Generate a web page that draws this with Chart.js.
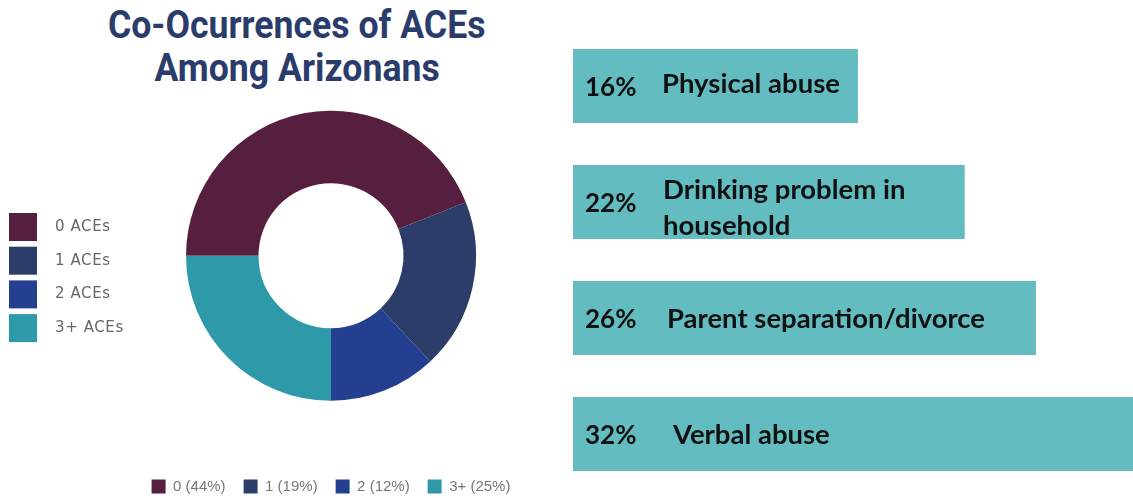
<!DOCTYPE html>
<html>
<head>
<meta charset="utf-8">
<title>Co-Ocurrences of ACEs Among Arizonans</title>
<script src="https://cdn.jsdelivr.net/npm/chart.js@4.4.1/dist/chart.umd.min.js"></script>
<style>
  html, body { margin:0; padding:0; background:#fff; }
  body { width:1133px; height:498px; position:relative; overflow:hidden; }
  #title { position:absolute; left:0; top:4px; width:594px; text-align:center;
           font-family:Roboto, sans-serif; font-weight:700; font-size:36px; line-height:43px; color:#2a3c6c; }
  #title span { display:inline-block; transform:scale(.99, 1.08); transform-origin:center; white-space:nowrap; }
  #donutWrap { position:absolute; left:0; top:0; width:662px; height:504px; }
  #barsWrap { position:absolute; left:573px; top:28px; width:560px; height:464px; }
</style>
</head>
<body>
<div id="title"><span>Co-Ocurrences of ACEs</span><br><span>Among Arizonans</span></div>
<div id="donutWrap"><canvas id="c-aces"></canvas></div>
<div id="barsWrap"><canvas id="c-types"></canvas></div>
<script>
  // ── ACE counts per person (share of adults, %)
  const aceLabels = ['0 ACEs', '1 ACEs', '2 ACEs', '3+ ACEs'];
  const aceShort  = ['0', '1', '2', '3+'];
  const aceShare  = [44, 19, 12, 25];
  const aceColors = ['#561f3f', '#2c3d6a', '#243f90', '#2e9aa9'];

  // ── Most common ACE types (%)
  const typeLabels = ['Physical abuse', ['Drinking problem in', 'household'], 'Parent separation/divorce', 'Verbal abuse'];
  const typeShare  = [16, 22, 26, 32];
  const typeIndent = [89, 90, 94, 100];   // label offset from bar start, px

  // legend squares on the left of the doughnut
  const sideLegend = {
    id: 'sideLegend',
    afterDraw(chart){
      const ctx = chart.ctx;
      const ds = chart.data.datasets[0];
      ctx.save();
      ctx.font = '15px "DejaVu Sans", sans-serif';
      ctx.letterSpacing = '0.6px';
      ctx.textBaseline = 'middle';
      chart.data.labels.forEach((lbl, i) => {
        const y = 213 + i * 33.7;
        ctx.fillStyle = ds.backgroundColor[i];
        ctx.fillRect(9, y, 28, 28);
        ctx.fillStyle = '#666';
        ctx.fillText(lbl, 55, y + 14);
      });
      ctx.restore();
    }
  };

  new Chart(document.getElementById('c-aces'), {
    type: 'doughnut',
    data: {
      labels: aceLabels,
      datasets: [{ data: aceShare, backgroundColor: aceColors, borderWidth: 0 }]
    },
    options: {
      responsive: true, maintainAspectRatio: false, animation: false,
      rotation: -90, radius: 145, cutout: '50%',
      layout: { padding: { top: 50.5, bottom: 0, left: 0, right: 0 } },
      plugins: {
        tooltip: { enabled: false },
        legend: {
          position: 'bottom',
          labels: {
            boxWidth: 14, boxHeight: 14, padding: 18, color: '#777',
            font: { family: '"Liberation Sans", Arial, sans-serif', size: 15 },
            generateLabels: chart => chart.data.labels.map((l, i) => ({
              text: aceShort[i] + ' (' + aceShare[i] + '%)',
              fillStyle: aceColors[i], strokeStyle: aceColors[i], lineWidth: 0,
              fontColor: '#777', index: i, hidden: false
            }))
          }
        }
      }
    },
    plugins: [sideLegend]
  });

  // percent + label written inside each bar
  const barText = {
    id: 'barText',
    afterDatasetsDraw(chart){
      const ctx = chart.ctx;
      const x0 = chart.scales.x.getPixelForValue(0);
      const vals = chart.data.datasets[0].data;
      ctx.save();
      ctx.fillStyle = '#111';
      ctx.textBaseline = 'middle';
      chart.getDatasetMeta(0).data.forEach((bar, i) => {
        ctx.font = 'bold 26px Lato, sans-serif';
        ctx.fillText(vals[i] + '%', x0 + 12, bar.y + 2);
        ctx.font = 'bold 27.5px Lato, sans-serif';
        const lines = [].concat(chart.data.labels[i]);
        const shift = lines.length > 1 ? 6 : (i === 0 ? -2 : 1);
        lines.forEach((ln, k) => {
          ctx.fillText(ln, x0 + typeIndent[i], bar.y + shift + (k - (lines.length - 1) / 2) * 36);
        });
      });
      ctx.restore();
    }
  };

  new Chart(document.getElementById('c-types'), {
    type: 'bar',
    data: {
      labels: typeLabels,
      datasets: [{ data: typeShare, backgroundColor: '#63bcc0', borderWidth: 0,
                   barPercentage: 0.638, categoryPercentage: 1 }]
    },
    options: {
      indexAxis: 'y',
      responsive: true, maintainAspectRatio: false, animation: false,
      layout: { padding: 0 },
      scales: {
        x: { display: false, min: 0, max: 31.45 },
        y: { display: false }
      },
      plugins: { legend: { display: false }, tooltip: { enabled: false } }
    },
    plugins: [barText]
  });
</script>
</body>
</html>
